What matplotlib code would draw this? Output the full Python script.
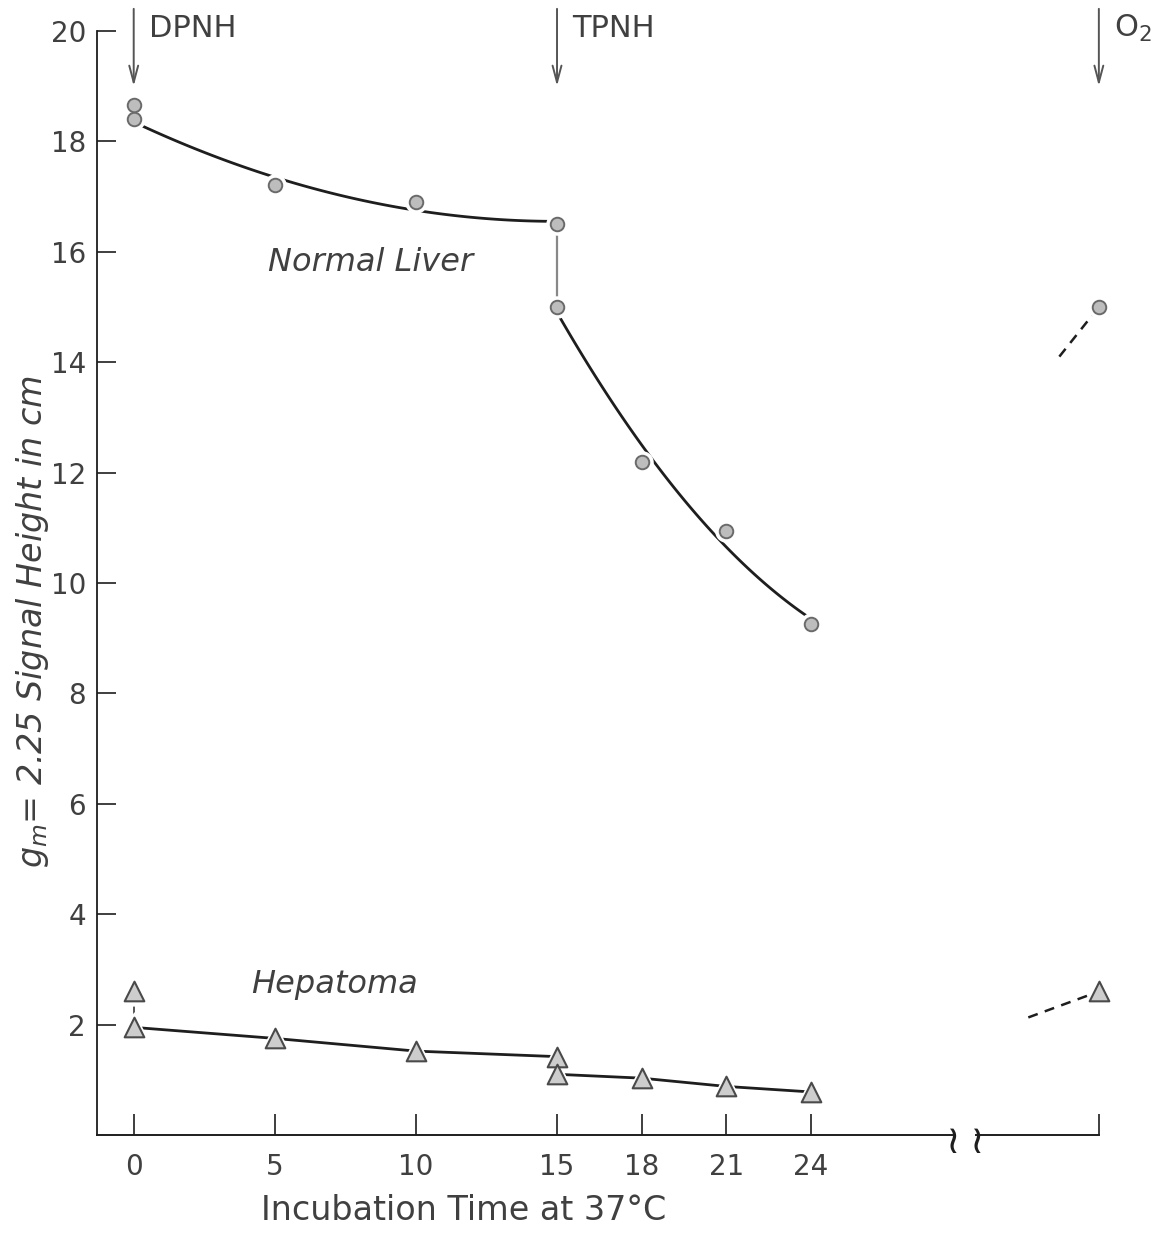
import numpy as np
import matplotlib
matplotlib.use("Agg")
import matplotlib.pyplot as plt

# --- data -------------------------------------------------------------
x_ticks = [0, 5, 10, 15, 18, 21, 24]
x_o2 = 34.2                      # position of the O2 reading after the break

# Normal liver (circles)
liver_t_a = [0, 5, 10, 15]
liver_v_a = [18.4, 17.2, 16.9, 16.5]
liver_t_b = [15, 18, 21, 24]
liver_v_b = [15.0, 12.2, 10.95, 9.25]
liver_t0_extra = 0
liver_v0_extra = 18.65
liver_o2 = 15.0
liver_o2_from = (32.8, 14.1)

# Hepatoma (triangles)
hep_t_a = [0, 5, 10, 15]
hep_v_a = [1.95, 1.75, 1.52, 1.42]
hep_t_b = [15, 18, 21, 24]
hep_v_b = [1.1, 1.03, 0.88, 0.78]
hep_t0_extra = 0
hep_v0_extra = 2.6
hep_o2 = 2.6
hep_o2_from = (31.7, 2.13)

y_ticks = [2, 4, 6, 8, 10, 12, 14, 16, 18, 20]

# --- style ------------------------------------------------------------
TXT = "#404040"
LINE = "#1e1e1e"
plt.rcParams["font.family"] = ["DejaVu Sans"]

fig = plt.figure(figsize=(11.76, 12.36), dpi=100)
ax = fig.add_axes([0.0825, 0.0817, 0.8555, 0.8933])
ax.set_xlim(-1.3, 34.35)
ax.set_ylim(0, 20)

for s in ("top", "right", "bottom"):
    ax.spines[s].set_visible(False)
ax.spines["left"].set_color(LINE)
ax.spines["left"].set_linewidth(1.3)

# y axis ticks (inward, labels outside)
ax.set_yticks(y_ticks)
ax.set_yticklabels([str(v) for v in y_ticks])
ax.tick_params(axis="y", direction="in", length=14, width=1.2, color=LINE,
               pad=8, labelsize=20, labelcolor=TXT)
# x axis ticks
ax.set_xticks(x_ticks + [x_o2])
ax.set_xticklabels([str(v) for v in x_ticks] + [""])
ax.tick_params(axis="x", direction="in", length=15, width=1.2, color=LINE,
               pad=13, labelsize=20, labelcolor=TXT)

# bottom axis line with a break
brk_l, brk_r = 29.0, 29.85
ax.plot([-1.3, brk_l], [0, 0], color=LINE, lw=1.4, clip_on=False, zorder=3)
ax.plot([brk_r, x_o2], [0, 0], color=LINE, lw=1.4, clip_on=False, zorder=3)
for xb in (brk_l, brk_r):
    ax.text(xb, -0.12, "\u2240", ha="center", va="center", fontsize=28,
            color=LINE, clip_on=False)

# --- curves -----------------------------------------------------------
def smooth(ts, vs, deg=2, n=120):
    c = np.polyfit(ts, vs, deg)
    tt = np.linspace(min(ts), max(ts), n)
    return tt, np.polyval(c, tt)

tt, vv = smooth(liver_t_a, liver_v_a)
ax.plot(tt, vv, color=LINE, lw=2.0, zorder=2)
tt, vv = smooth(liver_t_b, liver_v_b)
ax.plot(tt, vv, color=LINE, lw=2.0, zorder=2)
# vertical drop at TPNH addition
ax.plot([15, 15], [liver_v_a[-1], liver_v_b[0]], color="#888888", lw=1.6, zorder=2)

ax.plot(hep_t_a, hep_v_a, color=LINE, lw=2.0, zorder=2)
ax.plot(hep_t_b, hep_v_b, color=LINE, lw=2.0, zorder=2)
ax.plot([0, 0], [hep_v0_extra, hep_v_a[0]], color="#555555", lw=1.4, zorder=2)
ax.plot([15, 15], [hep_v_a[-1], hep_v_b[0]], color="#aaaaaa", lw=1.2, zorder=2)

# dashed O2 segments
ax.plot([liver_o2_from[0], x_o2], [liver_o2_from[1], liver_o2], color=LINE,
        lw=1.8, ls=(0, (4, 3)), zorder=2)
ax.plot([hep_o2_from[0], x_o2], [hep_o2_from[1], hep_o2], color=LINE,
        lw=1.8, ls=(0, (4, 3)), zorder=2)

# --- markers (white halo leaves a small gap where lines meet) ---------
liver_x = liver_t_a + liver_t_b + [liver_t0_extra, x_o2]
liver_y = liver_v_a + liver_v_b + [liver_v0_extra, liver_o2]
ax.scatter(liver_x, liver_y, s=230, color="white", zorder=4, clip_on=False)
ax.scatter(liver_x, liver_y, s=95, facecolor="#bdbdbd", edgecolor="#6a6a6a",
           linewidth=1.4, zorder=5, clip_on=False)

hep_x = hep_t_a + hep_t_b + [hep_t0_extra, x_o2]
hep_y = hep_v_a + hep_v_b + [hep_v0_extra, hep_o2]
ax.scatter(hep_x, hep_y, s=430, marker="^", color="white", zorder=4, clip_on=False)
ax.scatter(hep_x, hep_y, s=200, marker="^", facecolor="#cdcdcd",
           edgecolor="#4a4a4a", linewidth=1.5, zorder=5, clip_on=False)

# --- annotations ------------------------------------------------------
for xa, lab in ((0, "DPNH"), (15, "TPNH"), (x_o2, "O$_2$")):
    ax.annotate("", xy=(xa, 18.95), xytext=(xa, 20.45),
                arrowprops=dict(arrowstyle="->,head_length=1.2,head_width=0.32",
                                color="#555555", lw=1.4),
                annotation_clip=False)
    ax.text(xa + 0.55, 20.05, lab, ha="left", va="center", fontsize=22,
            color=TXT, clip_on=False)

ax.text(8.4, 15.8, "Normal Liver", ha="center", va="center", fontsize=23,
        style="italic", color=TXT)
ax.text(7.1, 2.72, "Hepatoma", ha="center", va="center", fontsize=23,
        style="italic", color=TXT)

ax.set_xlabel("Incubation Time at 37\u00b0C", fontsize=24, color=TXT, va="center")
ax.xaxis.set_label_coords(0.364, -0.068)
ax.set_ylabel("$g_m$= 2.25 Signal Height in cm", fontsize=24, color=TXT,
              style="italic", va="center")
ax.yaxis.set_label_coords(-0.064, 0.465)

fig.savefig("out.png", dpi=100, facecolor="white")
